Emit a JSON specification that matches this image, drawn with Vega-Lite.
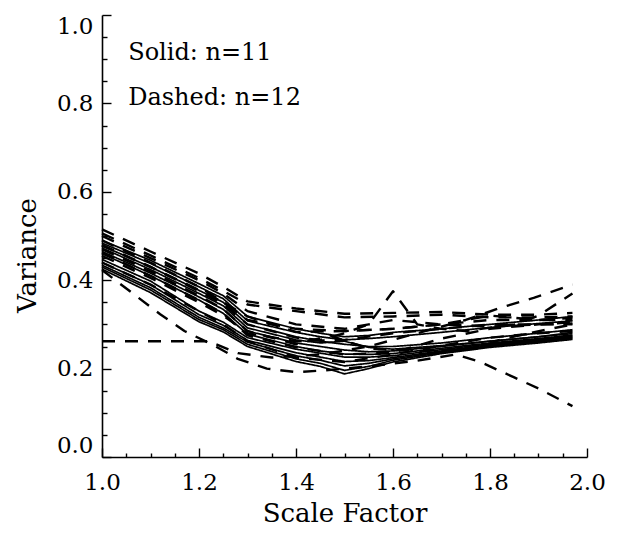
{
  "$schema": "https://vega.github.io/schema/vega-lite/v6.json",
  "width": 485,
  "height": 442,
  "autosize": {"type": "none"},
  "padding": {"left": 102, "top": 15, "right": 34, "bottom": 78},
  "background": "white",
  "config": {
    "view": {"stroke": null},
    "font": "DejaVu Serif",
    "axis": {
      "domainColor": "black", "domainWidth": 1.6, "tickColor": "black", "tickWidth": 1.4,
      "labelColor": "black", "titleColor": "black", "labelFont": "DejaVu Serif", "titleFont": "DejaVu Serif",
      "labelFontSize": 23, "titleFontSize": 26, "labelFontWeight": "normal", "titleFontWeight": "normal", "grid": false
    }
  },
  "datasets": {
    "lines": [
      {"id":"S1","t":"solid","x":1.0,"y":0.490},{"id":"S1","t":"solid","x":1.1,"y":0.445},{"id":"S1","t":"solid","x":1.2,"y":0.392},{"id":"S1","t":"solid","x":1.25,"y":0.365},{"id":"S1","t":"solid","x":1.3,"y":0.318},{"id":"S1","t":"solid","x":1.4,"y":0.290},{"id":"S1","t":"solid","x":1.45,"y":0.280},{"id":"S1","t":"solid","x":1.5,"y":0.272},{"id":"S1","t":"solid","x":1.55,"y":0.275},{"id":"S1","t":"solid","x":1.6,"y":0.282},{"id":"S1","t":"solid","x":1.7,"y":0.290},{"id":"S1","t":"solid","x":1.8,"y":0.300},{"id":"S1","t":"solid","x":1.9,"y":0.310},{"id":"S1","t":"solid","x":1.97,"y":0.318},
      {"id":"S2","t":"solid","x":1.0,"y":0.484},{"id":"S2","t":"solid","x":1.1,"y":0.438},{"id":"S2","t":"solid","x":1.2,"y":0.385},{"id":"S2","t":"solid","x":1.25,"y":0.358},{"id":"S2","t":"solid","x":1.3,"y":0.308},{"id":"S2","t":"solid","x":1.4,"y":0.282},{"id":"S2","t":"solid","x":1.45,"y":0.272},{"id":"S2","t":"solid","x":1.5,"y":0.265},{"id":"S2","t":"solid","x":1.55,"y":0.268},{"id":"S2","t":"solid","x":1.6,"y":0.272},{"id":"S2","t":"solid","x":1.7,"y":0.282},{"id":"S2","t":"solid","x":1.8,"y":0.293},{"id":"S2","t":"solid","x":1.9,"y":0.302},{"id":"S2","t":"solid","x":1.97,"y":0.308},
      {"id":"S3","t":"solid","x":1.0,"y":0.478},{"id":"S3","t":"solid","x":1.1,"y":0.430},{"id":"S3","t":"solid","x":1.2,"y":0.377},{"id":"S3","t":"solid","x":1.25,"y":0.350},{"id":"S3","t":"solid","x":1.3,"y":0.300},{"id":"S3","t":"solid","x":1.4,"y":0.272},{"id":"S3","t":"solid","x":1.45,"y":0.262},{"id":"S3","t":"solid","x":1.5,"y":0.255},{"id":"S3","t":"solid","x":1.55,"y":0.250},{"id":"S3","t":"solid","x":1.6,"y":0.250},{"id":"S3","t":"solid","x":1.7,"y":0.258},{"id":"S3","t":"solid","x":1.8,"y":0.270},{"id":"S3","t":"solid","x":1.9,"y":0.280},{"id":"S3","t":"solid","x":1.97,"y":0.288},
      {"id":"S4","t":"solid","x":1.0,"y":0.473},{"id":"S4","t":"solid","x":1.1,"y":0.424},{"id":"S4","t":"solid","x":1.2,"y":0.370},{"id":"S4","t":"solid","x":1.25,"y":0.342},{"id":"S4","t":"solid","x":1.3,"y":0.292},{"id":"S4","t":"solid","x":1.4,"y":0.265},{"id":"S4","t":"solid","x":1.45,"y":0.258},{"id":"S4","t":"solid","x":1.5,"y":0.262},{"id":"S4","t":"solid","x":1.55,"y":0.248},{"id":"S4","t":"solid","x":1.6,"y":0.244},{"id":"S4","t":"solid","x":1.7,"y":0.252},{"id":"S4","t":"solid","x":1.8,"y":0.262},{"id":"S4","t":"solid","x":1.9,"y":0.272},{"id":"S4","t":"solid","x":1.97,"y":0.282},
      {"id":"S5","t":"solid","x":1.0,"y":0.465},{"id":"S5","t":"solid","x":1.1,"y":0.416},{"id":"S5","t":"solid","x":1.2,"y":0.362},{"id":"S5","t":"solid","x":1.25,"y":0.334},{"id":"S5","t":"solid","x":1.3,"y":0.285},{"id":"S5","t":"solid","x":1.4,"y":0.258},{"id":"S5","t":"solid","x":1.45,"y":0.250},{"id":"S5","t":"solid","x":1.5,"y":0.242},{"id":"S5","t":"solid","x":1.55,"y":0.238},{"id":"S5","t":"solid","x":1.6,"y":0.240},{"id":"S5","t":"solid","x":1.7,"y":0.250},{"id":"S5","t":"solid","x":1.8,"y":0.262},{"id":"S5","t":"solid","x":1.9,"y":0.272},{"id":"S5","t":"solid","x":1.97,"y":0.279},
      {"id":"S6","t":"solid","x":1.0,"y":0.460},{"id":"S6","t":"solid","x":1.1,"y":0.410},{"id":"S6","t":"solid","x":1.2,"y":0.355},{"id":"S6","t":"solid","x":1.25,"y":0.325},{"id":"S6","t":"solid","x":1.3,"y":0.278},{"id":"S6","t":"solid","x":1.4,"y":0.250},{"id":"S6","t":"solid","x":1.45,"y":0.240},{"id":"S6","t":"solid","x":1.5,"y":0.233},{"id":"S6","t":"solid","x":1.55,"y":0.232},{"id":"S6","t":"solid","x":1.6,"y":0.234},{"id":"S6","t":"solid","x":1.7,"y":0.246},{"id":"S6","t":"solid","x":1.8,"y":0.258},{"id":"S6","t":"solid","x":1.9,"y":0.268},{"id":"S6","t":"solid","x":1.97,"y":0.276},
      {"id":"S7","t":"solid","x":1.0,"y":0.447},{"id":"S7","t":"solid","x":1.1,"y":0.398},{"id":"S7","t":"solid","x":1.2,"y":0.330},{"id":"S7","t":"solid","x":1.25,"y":0.305},{"id":"S7","t":"solid","x":1.3,"y":0.270},{"id":"S7","t":"solid","x":1.4,"y":0.244},{"id":"S7","t":"solid","x":1.45,"y":0.235},{"id":"S7","t":"solid","x":1.5,"y":0.226},{"id":"S7","t":"solid","x":1.55,"y":0.226},{"id":"S7","t":"solid","x":1.6,"y":0.229},{"id":"S7","t":"solid","x":1.7,"y":0.243},{"id":"S7","t":"solid","x":1.8,"y":0.256},{"id":"S7","t":"solid","x":1.9,"y":0.266},{"id":"S7","t":"solid","x":1.97,"y":0.274},
      {"id":"S8","t":"solid","x":1.0,"y":0.440},{"id":"S8","t":"solid","x":1.1,"y":0.390},{"id":"S8","t":"solid","x":1.2,"y":0.322},{"id":"S8","t":"solid","x":1.25,"y":0.298},{"id":"S8","t":"solid","x":1.3,"y":0.264},{"id":"S8","t":"solid","x":1.4,"y":0.236},{"id":"S8","t":"solid","x":1.45,"y":0.226},{"id":"S8","t":"solid","x":1.5,"y":0.216},{"id":"S8","t":"solid","x":1.55,"y":0.218},{"id":"S8","t":"solid","x":1.6,"y":0.225},{"id":"S8","t":"solid","x":1.7,"y":0.240},{"id":"S8","t":"solid","x":1.8,"y":0.254},{"id":"S8","t":"solid","x":1.9,"y":0.264},{"id":"S8","t":"solid","x":1.97,"y":0.272},
      {"id":"S9","t":"solid","x":1.0,"y":0.434},{"id":"S9","t":"solid","x":1.1,"y":0.383},{"id":"S9","t":"solid","x":1.2,"y":0.316},{"id":"S9","t":"solid","x":1.25,"y":0.292},{"id":"S9","t":"solid","x":1.3,"y":0.260},{"id":"S9","t":"solid","x":1.4,"y":0.229},{"id":"S9","t":"solid","x":1.45,"y":0.219},{"id":"S9","t":"solid","x":1.5,"y":0.206},{"id":"S9","t":"solid","x":1.55,"y":0.212},{"id":"S9","t":"solid","x":1.6,"y":0.222},{"id":"S9","t":"solid","x":1.7,"y":0.238},{"id":"S9","t":"solid","x":1.8,"y":0.252},{"id":"S9","t":"solid","x":1.9,"y":0.262},{"id":"S9","t":"solid","x":1.97,"y":0.270},
      {"id":"S10","t":"solid","x":1.0,"y":0.430},{"id":"S10","t":"solid","x":1.1,"y":0.378},{"id":"S10","t":"solid","x":1.2,"y":0.311},{"id":"S10","t":"solid","x":1.25,"y":0.288},{"id":"S10","t":"solid","x":1.3,"y":0.255},{"id":"S10","t":"solid","x":1.4,"y":0.222},{"id":"S10","t":"solid","x":1.45,"y":0.212},{"id":"S10","t":"solid","x":1.5,"y":0.196},{"id":"S10","t":"solid","x":1.55,"y":0.205},{"id":"S10","t":"solid","x":1.6,"y":0.219},{"id":"S10","t":"solid","x":1.7,"y":0.236},{"id":"S10","t":"solid","x":1.8,"y":0.250},{"id":"S10","t":"solid","x":1.9,"y":0.260},{"id":"S10","t":"solid","x":1.97,"y":0.268},
      {"id":"S11","t":"solid","x":1.0,"y":0.425},{"id":"S11","t":"solid","x":1.1,"y":0.372},{"id":"S11","t":"solid","x":1.2,"y":0.306},{"id":"S11","t":"solid","x":1.25,"y":0.283},{"id":"S11","t":"solid","x":1.3,"y":0.250},{"id":"S11","t":"solid","x":1.4,"y":0.216},{"id":"S11","t":"solid","x":1.45,"y":0.205},{"id":"S11","t":"solid","x":1.5,"y":0.188},{"id":"S11","t":"solid","x":1.55,"y":0.200},{"id":"S11","t":"solid","x":1.6,"y":0.215},{"id":"S11","t":"solid","x":1.7,"y":0.234},{"id":"S11","t":"solid","x":1.8,"y":0.248},{"id":"S11","t":"solid","x":1.9,"y":0.258},{"id":"S11","t":"solid","x":1.97,"y":0.266},

      {"id":"D1","t":"dashed","x":1.0,"y":0.515},{"id":"D1","t":"dashed","x":1.1,"y":0.465},{"id":"D1","t":"dashed","x":1.2,"y":0.415},{"id":"D1","t":"dashed","x":1.25,"y":0.385},{"id":"D1","t":"dashed","x":1.3,"y":0.352},{"id":"D1","t":"dashed","x":1.4,"y":0.336},{"id":"D1","t":"dashed","x":1.5,"y":0.324},{"id":"D1","t":"dashed","x":1.6,"y":0.326},{"id":"D1","t":"dashed","x":1.7,"y":0.328},{"id":"D1","t":"dashed","x":1.8,"y":0.322},{"id":"D1","t":"dashed","x":1.9,"y":0.322},{"id":"D1","t":"dashed","x":1.97,"y":0.326},
      {"id":"D2","t":"dashed","x":1.0,"y":0.506},{"id":"D2","t":"dashed","x":1.1,"y":0.456},{"id":"D2","t":"dashed","x":1.2,"y":0.405},{"id":"D2","t":"dashed","x":1.25,"y":0.376},{"id":"D2","t":"dashed","x":1.3,"y":0.345},{"id":"D2","t":"dashed","x":1.4,"y":0.330},{"id":"D2","t":"dashed","x":1.5,"y":0.316},{"id":"D2","t":"dashed","x":1.6,"y":0.318},{"id":"D2","t":"dashed","x":1.7,"y":0.322},{"id":"D2","t":"dashed","x":1.8,"y":0.316},{"id":"D2","t":"dashed","x":1.9,"y":0.316},{"id":"D2","t":"dashed","x":1.97,"y":0.318},
      {"id":"D3","t":"dashed","x":1.0,"y":0.490},{"id":"D3","t":"dashed","x":1.1,"y":0.440},{"id":"D3","t":"dashed","x":1.2,"y":0.385},{"id":"D3","t":"dashed","x":1.25,"y":0.350},{"id":"D3","t":"dashed","x":1.3,"y":0.318},{"id":"D3","t":"dashed","x":1.4,"y":0.283},{"id":"D3","t":"dashed","x":1.5,"y":0.285},{"id":"D3","t":"dashed","x":1.6,"y":0.290},{"id":"D3","t":"dashed","x":1.7,"y":0.300},{"id":"D3","t":"dashed","x":1.8,"y":0.295},{"id":"D3","t":"dashed","x":1.9,"y":0.300},{"id":"D3","t":"dashed","x":1.97,"y":0.302},
      {"id":"D4","t":"dashed","x":1.0,"y":0.423},{"id":"D4","t":"dashed","x":1.06,"y":0.373},{"id":"D4","t":"dashed","x":1.12,"y":0.323},{"id":"D4","t":"dashed","x":1.17,"y":0.285},{"id":"D4","t":"dashed","x":1.23,"y":0.253},{"id":"D4","t":"dashed","x":1.28,"y":0.222},{"id":"D4","t":"dashed","x":1.34,"y":0.200},{"id":"D4","t":"dashed","x":1.4,"y":0.192},{"id":"D4","t":"dashed","x":1.46,"y":0.196},{"id":"D4","t":"dashed","x":1.55,"y":0.205},{"id":"D4","t":"dashed","x":1.65,"y":0.218},{"id":"D4","t":"dashed","x":1.73,"y":0.232},{"id":"D4","t":"dashed","x":1.78,"y":0.215},{"id":"D4","t":"dashed","x":1.85,"y":0.180},{"id":"D4","t":"dashed","x":1.9,"y":0.155},{"id":"D4","t":"dashed","x":1.97,"y":0.115},
      {"id":"D5","t":"dashed","x":1.0,"y":0.262},{"id":"D5","t":"dashed","x":1.1,"y":0.262},{"id":"D5","t":"dashed","x":1.22,"y":0.262},{"id":"D5","t":"dashed","x":1.28,"y":0.235},{"id":"D5","t":"dashed","x":1.35,"y":0.225},{"id":"D5","t":"dashed","x":1.45,"y":0.232},{"id":"D5","t":"dashed","x":1.55,"y":0.250},{"id":"D5","t":"dashed","x":1.65,"y":0.280},{"id":"D5","t":"dashed","x":1.75,"y":0.310},{"id":"D5","t":"dashed","x":1.82,"y":0.337},{"id":"D5","t":"dashed","x":1.89,"y":0.360},{"id":"D5","t":"dashed","x":1.97,"y":0.390},
      {"id":"D6","t":"dashed","x":1.0,"y":0.480},{"id":"D6","t":"dashed","x":1.1,"y":0.430},{"id":"D6","t":"dashed","x":1.2,"y":0.375},{"id":"D6","t":"dashed","x":1.25,"y":0.345},{"id":"D6","t":"dashed","x":1.3,"y":0.300},{"id":"D6","t":"dashed","x":1.4,"y":0.270},{"id":"D6","t":"dashed","x":1.45,"y":0.265},{"id":"D6","t":"dashed","x":1.5,"y":0.280},{"id":"D6","t":"dashed","x":1.55,"y":0.300},{"id":"D6","t":"dashed","x":1.6,"y":0.375},{"id":"D6","t":"dashed","x":1.65,"y":0.300},{"id":"D6","t":"dashed","x":1.7,"y":0.290},{"id":"D6","t":"dashed","x":1.75,"y":0.285},{"id":"D6","t":"dashed","x":1.85,"y":0.300},{"id":"D6","t":"dashed","x":1.9,"y":0.320},{"id":"D6","t":"dashed","x":1.97,"y":0.370},
      {"id":"D7","t":"dashed","x":1.0,"y":0.470},{"id":"D7","t":"dashed","x":1.1,"y":0.420},{"id":"D7","t":"dashed","x":1.2,"y":0.365},{"id":"D7","t":"dashed","x":1.25,"y":0.335},{"id":"D7","t":"dashed","x":1.3,"y":0.285},{"id":"D7","t":"dashed","x":1.4,"y":0.255},{"id":"D7","t":"dashed","x":1.47,"y":0.275},{"id":"D7","t":"dashed","x":1.55,"y":0.245},{"id":"D7","t":"dashed","x":1.65,"y":0.240},{"id":"D7","t":"dashed","x":1.77,"y":0.245},{"id":"D7","t":"dashed","x":1.82,"y":0.265},{"id":"D7","t":"dashed","x":1.88,"y":0.280},{"id":"D7","t":"dashed","x":1.97,"y":0.300},
      {"id":"D8","t":"dashed","x":1.0,"y":0.462},{"id":"D8","t":"dashed","x":1.1,"y":0.410},{"id":"D8","t":"dashed","x":1.2,"y":0.355},{"id":"D8","t":"dashed","x":1.25,"y":0.325},{"id":"D8","t":"dashed","x":1.3,"y":0.275},{"id":"D8","t":"dashed","x":1.4,"y":0.248},{"id":"D8","t":"dashed","x":1.5,"y":0.232},{"id":"D8","t":"dashed","x":1.6,"y":0.236},{"id":"D8","t":"dashed","x":1.7,"y":0.268},{"id":"D8","t":"dashed","x":1.8,"y":0.290},{"id":"D8","t":"dashed","x":1.9,"y":0.300},{"id":"D8","t":"dashed","x":1.97,"y":0.305},
      {"id":"D9","t":"dashed","x":1.0,"y":0.440},{"id":"D9","t":"dashed","x":1.1,"y":0.390},{"id":"D9","t":"dashed","x":1.2,"y":0.330},{"id":"D9","t":"dashed","x":1.25,"y":0.300},{"id":"D9","t":"dashed","x":1.3,"y":0.262},{"id":"D9","t":"dashed","x":1.4,"y":0.225},{"id":"D9","t":"dashed","x":1.5,"y":0.215},{"id":"D9","t":"dashed","x":1.6,"y":0.232},{"id":"D9","t":"dashed","x":1.7,"y":0.252},{"id":"D9","t":"dashed","x":1.8,"y":0.270},{"id":"D9","t":"dashed","x":1.9,"y":0.280},{"id":"D9","t":"dashed","x":1.97,"y":0.285},
      {"id":"D10","t":"dashed","x":1.0,"y":0.500},{"id":"D10","t":"dashed","x":1.1,"y":0.450},{"id":"D10","t":"dashed","x":1.2,"y":0.400},{"id":"D10","t":"dashed","x":1.25,"y":0.370},{"id":"D10","t":"dashed","x":1.3,"y":0.330},{"id":"D10","t":"dashed","x":1.4,"y":0.300},{"id":"D10","t":"dashed","x":1.5,"y":0.290},{"id":"D10","t":"dashed","x":1.55,"y":0.300},{"id":"D10","t":"dashed","x":1.6,"y":0.310},{"id":"D10","t":"dashed","x":1.7,"y":0.300},{"id":"D10","t":"dashed","x":1.8,"y":0.320},{"id":"D10","t":"dashed","x":1.9,"y":0.310},{"id":"D10","t":"dashed","x":1.97,"y":0.315},
      {"id":"D11","t":"dashed","x":1.0,"y":0.478},{"id":"D11","t":"dashed","x":1.1,"y":0.430},{"id":"D11","t":"dashed","x":1.2,"y":0.378},{"id":"D11","t":"dashed","x":1.25,"y":0.350},{"id":"D11","t":"dashed","x":1.3,"y":0.310},{"id":"D11","t":"dashed","x":1.4,"y":0.290},{"id":"D11","t":"dashed","x":1.5,"y":0.285},{"id":"D11","t":"dashed","x":1.6,"y":0.290},{"id":"D11","t":"dashed","x":1.7,"y":0.300},{"id":"D11","t":"dashed","x":1.8,"y":0.310},{"id":"D11","t":"dashed","x":1.9,"y":0.310},{"id":"D11","t":"dashed","x":1.97,"y":0.310},
      {"id":"D12","t":"dashed","x":1.0,"y":0.455},{"id":"D12","t":"dashed","x":1.1,"y":0.405},{"id":"D12","t":"dashed","x":1.2,"y":0.350},{"id":"D12","t":"dashed","x":1.25,"y":0.320},{"id":"D12","t":"dashed","x":1.3,"y":0.280},{"id":"D12","t":"dashed","x":1.4,"y":0.262},{"id":"D12","t":"dashed","x":1.5,"y":0.265},{"id":"D12","t":"dashed","x":1.6,"y":0.280},{"id":"D12","t":"dashed","x":1.7,"y":0.290},{"id":"D12","t":"dashed","x":1.8,"y":0.300},{"id":"D12","t":"dashed","x":1.9,"y":0.300},{"id":"D12","t":"dashed","x":1.97,"y":0.300}
    ],
    "notes": [
      {"label": "Solid: n=11", "x": 1.054, "y": 0.898},
      {"label": "Dashed: n=12", "x": 1.054, "y": 0.796}
    ]
  },
  "resolve": {"axis": {"x": "independent", "y": "independent"}},
  "layer": [
    {
      "data": {"name": "lines"},
      "mark": {"type": "line", "color": "black", "strokeCap": "butt", "strokeJoin": "round"},
      "encoding": {
        "x": {"field": "x", "type": "quantitative", "scale": {"domain": [1, 2], "nice": false, "zero": false},
          "axis": {"orient": "bottom", "values": [1, 1.2, 1.4, 1.6, 1.8, 2], "format": ".1f", "tickSize": -9, "labelPadding": 23, "title": "Scale Factor", "titlePadding": 6, "labelFlush": false}},
        "y": {"field": "y", "type": "quantitative", "scale": {"domain": [0, 1], "nice": false, "zero": false},
          "axis": {"orient": "left", "values": [0, 0.2, 0.4, 0.6, 0.8, 1], "format": ".1f", "tickSize": -9, "labelPadding": 18, "title": "Variance", "titlePadding": 16, "titleY": 240, "labelFlush": true}},
        "detail": {"field": "id"},
        "strokeDash": {"field": "t", "type": "nominal", "scale": {"domain": ["solid", "dashed"], "range": [[1, 0], [13, 10]]}, "legend": null},
        "strokeWidth": {"field": "t", "type": "nominal", "scale": {"domain": ["solid", "dashed"], "range": [1.7, 2.4]}, "legend": null}
      }
    },
    {
      "data": {"name": "lines"},
      "mark": {"type": "line", "opacity": 0},
      "encoding": {
        "x": {"field": "x", "type": "quantitative",
          "axis": {"orient": "bottom", "values": [1.05, 1.1, 1.15, 1.25, 1.3, 1.35, 1.45, 1.5, 1.55, 1.65, 1.7, 1.75, 1.85, 1.9, 1.95], "tickSize": -4, "labels": false, "domain": false, "title": null}},
        "y": {"field": "y", "type": "quantitative",
          "axis": {"orient": "left", "values": [0.05, 0.1, 0.15, 0.25, 0.3, 0.35, 0.45, 0.5, 0.55, 0.65, 0.7, 0.75, 0.85, 0.9, 0.95], "tickSize": -5, "labels": false, "domain": false, "title": null}},
        "detail": {"field": "id"}
      }
    },
    {
      "data": {"name": "notes"},
      "mark": {"type": "text", "align": "left", "baseline": "alphabetic", "font": "DejaVu Serif", "fontSize": 24, "color": "black"},
      "encoding": {
        "x": {"field": "x", "type": "quantitative", "axis": null},
        "y": {"field": "y", "type": "quantitative", "axis": null},
        "text": {"field": "label"}
      }
    }
  ]
}
